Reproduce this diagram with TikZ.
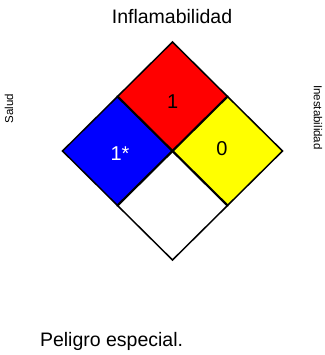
\documentclass[tikz,border=0pt]{standalone}
\usepackage{fontspec}
\setmainfont{Liberation Sans}
\definecolor{hzred}{RGB}{255,0,0}
\definecolor{hzblue}{RGB}{0,0,255}
\definecolor{hzyellow}{RGB}{255,255,0}
\begin{document}
\begin{tikzpicture}[x=1pt,y=-1pt,
  biglabel/.style={inner sep=0pt,font=\fontsize{19.5}{23}\selectfont},
  sidelabel/.style={inner sep=0pt,font=\fontsize{11.5}{14}\selectfont},
  digit/.style={inner sep=0pt,font=\fontsize{20}{24}\selectfont},
  innerline/.style={line width=2.2pt,line cap=round},
  outerline/.style={line width=1.5pt,line join=miter}]
\useasboundingbox (0,0) rectangle (324,355);
% corners of the hazard diamond
\coordinate (C)  at (172.5,151);
\coordinate (T)  at (172.5,42);
\coordinate (B)  at (172.5,260);
\coordinate (L)  at (62.5,151);
\coordinate (R)  at (282.5,151);
\coordinate (TL) at (117.5,96.5);
\coordinate (TR) at (227.5,96.5);
\coordinate (BL) at (117.5,205.5);
\coordinate (BR) at (227.5,205.5);
% coloured quadrants
\fill[hzred]    (T) -- (TR) -- (C) -- (TL) -- cycle;
\fill[hzblue]   (L) -- (TL) -- (C) -- (BL) -- cycle;
\fill[hzyellow] (R) -- (TR) -- (C) -- (BR) -- cycle;
\fill[white]    (B) -- (BL) -- (C) -- (BR) -- cycle;
% dividing lines and outline
\draw[innerline] (TL) -- (BR);
\draw[innerline] (TR) -- (BL);
\draw[outerline] (T) -- (R) -- (B) -- (L) -- cycle;
% ratings
\node[digit] (flam) at (172.7,101.5) {1};
\node[digit,text=white] (health) at (120,154) {1*};
\node[digit] (inst) at (222,148.5) {0};
% category labels
\node[biglabel,anchor=base] (ftitle) at (172,23.3) {Inflamabilidad};
\node[sidelabel,rotate=90] (htitle) at (9,108.5) {Salud};
\node[sidelabel,rotate=-90] (ititle) at (318,117.5) {Inestabilidad};
\node[biglabel,anchor=base west] (special) at (39.8,346.7) {Peligro especial.};
\end{tikzpicture}
\end{document}
